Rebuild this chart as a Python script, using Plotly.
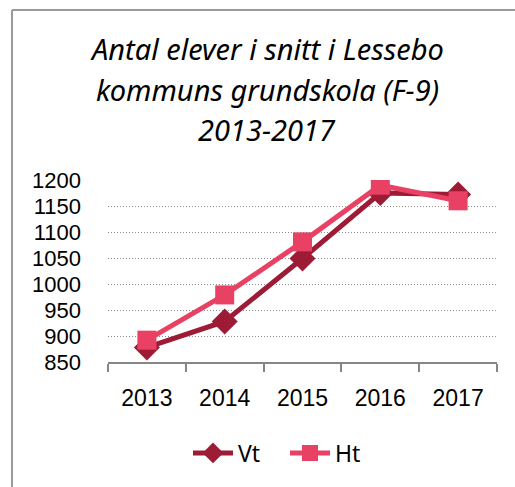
import plotly.graph_objects as go

years = ["2013", "2014", "2015", "2016", "2017"]
vt = [878, 928, 1049, 1175, 1172]
ht = [892, 979, 1081, 1190, 1160]
title_lines = ["Antal elever i snitt i Lessebo", "kommuns grundskola (F-9)", "2013-2017"]
y_ticks = [850, 900, 950, 1000, 1050, 1100, 1150, 1200]

L, R, T, B = 108, 18, 180, 125
W, H = 515, 487
pw, ph = W - L - R, H - T - B

def px_x(p):
    return (p - L) / pw

def px_y(p):
    return (H - B - p) / ph

fig = go.Figure()
fig.add_trace(go.Scatter(
    x=years, y=vt, name="Vt", mode="lines+markers",
    line=dict(color="#9E1B36", width=5),
    marker=dict(symbol="diamond", size=20, color="#9E1B36"),
))
fig.add_trace(go.Scatter(
    x=years, y=ht, name="Ht", mode="lines+markers",
    line=dict(color="#E94163", width=5),
    marker=dict(symbol="square", size=19, color="#E94163"),
))

title_font = "Noto Sans, Open Sans, DejaVu Sans, sans-serif"
tick_font = "Liberation Sans, Arial, sans-serif"
for txt, py in zip(title_lines, [49, 89, 129]):
    fig.add_annotation(
        text=f"<i>{txt}</i>", xref="paper", yref="paper",
        x=px_x(267), y=px_y(py), xanchor="center", yanchor="middle",
        showarrow=False, font=dict(family=title_font, size=29, color="#000000"),
    )

# outer chart frame (left and top edges visible)
fig.add_shape(type="line", xref="paper", yref="paper",
              x0=px_x(12), x1=px_x(12), y0=px_y(H + 5), y1=px_y(10),
              line=dict(color="#9A9A9A", width=2))
fig.add_shape(type="line", xref="paper", yref="paper",
              x0=px_x(12), x1=px_x(W + 5), y0=px_y(10), y1=px_y(10),
              line=dict(color="#9A9A9A", width=2))

fig.update_layout(
    width=W, height=H,
    margin=dict(l=L, r=R, t=T, b=B),
    paper_bgcolor="white", plot_bgcolor="white",
    font=dict(family=tick_font, size=22, color="#000000"),
    showlegend=True,
    legend=dict(orientation="h", x=px_x(188), xanchor="left",
                y=px_y(453), yanchor="middle", itemwidth=40,
                entrywidth=42, entrywidthmode="pixels",
                font=dict(family=title_font, size=23), bgcolor="rgba(0,0,0,0)"),
)
fig.update_xaxes(
    type="category", showgrid=False, showline=True, linecolor="#868686", linewidth=1.5,
    ticks="outside", ticklen=8, tickcolor="#868686", tickwidth=1.5,
    tickson="boundaries", ticklabelstandoff=15, range=[-0.5, 4.5],
    tickfont=dict(family=tick_font, size=23),
)
fig.update_yaxes(
    range=[850, 1200], tickvals=y_ticks, showline=False, zeroline=False,
    showgrid=True, gridcolor="#8C8C8C", griddash="1px,2px", gridwidth=1,
    ticks="", ticklabelstandoff=26, tickfont=dict(family=tick_font, size=22),
)

fig.write_html("out.html", config={"displayModeBar": False})

# remove the default page margin so the figure sits at the window's corner
with open("out.html", "r", encoding="utf-8") as f:
    html = f.read()
html = html.replace("<head>", "<head><style>html,body{margin:0;padding:0;}</style>", 1)
with open("out.html", "w", encoding="utf-8") as f:
    f.write(html)
